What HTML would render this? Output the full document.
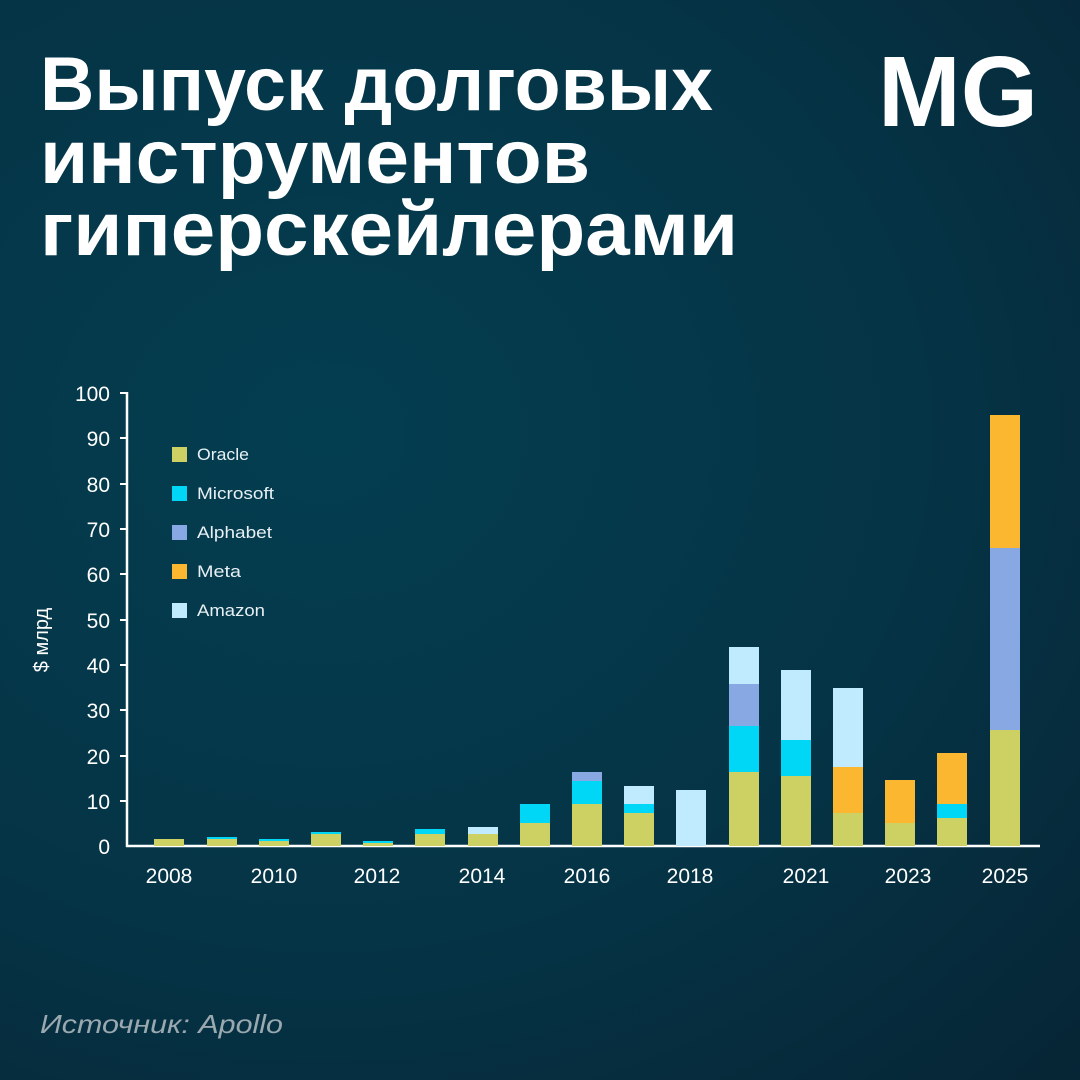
<!DOCTYPE html>
<html><head><meta charset="utf-8"><style>
html,body{margin:0;padding:0;}
body{width:1080px;height:1080px;overflow:hidden;background:radial-gradient(ellipse at 30% 40%,#033e50 0%,#053446 55%,#062535 100%);}
svg{display:block;}
</style></head><body>
<svg width="1080" height="1080" xmlns="http://www.w3.org/2000/svg" font-family="Liberation Sans, sans-serif">
<g fill="#fff" font-weight="bold" font-size="76">
<text x="40" y="110" textLength="673" lengthAdjust="spacingAndGlyphs">Выпуск долговых</text>
<text x="40" y="183" textLength="550" lengthAdjust="spacingAndGlyphs">инструментов</text>
<text x="40" y="255" textLength="698" lengthAdjust="spacingAndGlyphs">гиперскейлерами</text>
</g>
<text x="878" y="126" fill="#fff" font-size="100" font-weight="bold" textLength="160" lengthAdjust="spacingAndGlyphs">MG</text>
<g stroke="#fff" stroke-width="2.5">
<line x1="127" y1="392" x2="127" y2="847"/>
<line x1="126" y1="846" x2="1040" y2="846"/>
<g stroke-width="2">
<line x1="120" y1="393" x2="127" y2="393"/><line x1="120" y1="438" x2="127" y2="438"/><line x1="120" y1="484" x2="127" y2="484"/><line x1="120" y1="529" x2="127" y2="529"/><line x1="120" y1="574" x2="127" y2="574"/><line x1="120" y1="620" x2="127" y2="620"/><line x1="120" y1="665" x2="127" y2="665"/><line x1="120" y1="710" x2="127" y2="710"/><line x1="120" y1="756" x2="127" y2="756"/><line x1="120" y1="801" x2="127" y2="801"/>
</g></g>
<g fill="#fff" font-size="21" text-anchor="end">
<text x="110" y="401">100</text><text x="110" y="446">90</text><text x="110" y="492">80</text><text x="110" y="537">70</text><text x="110" y="582">60</text><text x="110" y="628">50</text><text x="110" y="673">40</text><text x="110" y="718">30</text><text x="110" y="764">20</text><text x="110" y="809">10</text><text x="110" y="854">0</text>
</g>
<text transform="translate(48,640) rotate(-90)" fill="#fff" font-size="20" text-anchor="middle">$ млрд</text>
<g fill="#fff" font-size="21" text-anchor="middle">
<text x="169" y="883">2008</text><text x="274" y="883">2010</text><text x="377" y="883">2012</text><text x="482" y="883">2014</text><text x="587" y="883">2016</text><text x="690" y="883">2018</text><text x="806" y="883">2021</text><text x="908" y="883">2023</text><text x="1005" y="883">2025</text>
</g>
<g>
<rect x="172" y="447" width="15" height="15" fill="#cdd164"/><rect x="172" y="486" width="15" height="15" fill="#00d6f5"/><rect x="172" y="525" width="15" height="15" fill="#88a8e4"/><rect x="172" y="564" width="15" height="15" fill="#fbb730"/><rect x="172" y="603" width="15" height="15" fill="#c0eafd"/>
<g fill="#e8f0f4" font-size="17"><text x="197" y="460" textLength="52" lengthAdjust="spacingAndGlyphs">Oracle</text><text x="197" y="499" textLength="77" lengthAdjust="spacingAndGlyphs">Microsoft</text><text x="197" y="538" textLength="75" lengthAdjust="spacingAndGlyphs">Alphabet</text><text x="197" y="577" textLength="44" lengthAdjust="spacingAndGlyphs">Meta</text><text x="197" y="616" textLength="68" lengthAdjust="spacingAndGlyphs">Amazon</text></g>
</g>
<g>
<rect x="154" y="839" width="30" height="7" fill="#cdd164"/>
<rect x="207" y="837" width="30" height="2" fill="#00d6f5"/><rect x="207" y="839" width="30" height="7" fill="#cdd164"/>
<rect x="259" y="839" width="30" height="2" fill="#00d6f5"/><rect x="259" y="841" width="30" height="5" fill="#cdd164"/>
<rect x="311" y="832" width="30" height="2" fill="#00d6f5"/><rect x="311" y="834" width="30" height="12" fill="#cdd164"/>
<rect x="363" y="841" width="30" height="2" fill="#00d6f5"/><rect x="363" y="843" width="30" height="3" fill="#cdd164"/>
<rect x="415" y="829" width="30" height="5" fill="#00d6f5"/><rect x="415" y="834" width="30" height="12" fill="#cdd164"/>
<rect x="468" y="827" width="30" height="7" fill="#c0eafd"/><rect x="468" y="834" width="30" height="12" fill="#cdd164"/>
<rect x="520" y="804" width="30" height="19" fill="#00d6f5"/><rect x="520" y="823" width="30" height="23" fill="#cdd164"/>
<rect x="572" y="772" width="30" height="9" fill="#88a8e4"/><rect x="572" y="781" width="30" height="23" fill="#00d6f5"/><rect x="572" y="804" width="30" height="42" fill="#cdd164"/>
<rect x="624" y="786" width="30" height="18" fill="#c0eafd"/><rect x="624" y="804" width="30" height="9" fill="#00d6f5"/><rect x="624" y="813" width="30" height="33" fill="#cdd164"/>
<rect x="676" y="790" width="30" height="56" fill="#c0eafd"/>
<rect x="729" y="647" width="30" height="37" fill="#c0eafd"/><rect x="729" y="684" width="30" height="42" fill="#88a8e4"/><rect x="729" y="726" width="30" height="46" fill="#00d6f5"/><rect x="729" y="772" width="30" height="74" fill="#cdd164"/>
<rect x="781" y="670" width="30" height="70" fill="#c0eafd"/><rect x="781" y="740" width="30" height="36" fill="#00d6f5"/><rect x="781" y="776" width="30" height="70" fill="#cdd164"/>
<rect x="833" y="688" width="30" height="79" fill="#c0eafd"/><rect x="833" y="767" width="30" height="46" fill="#fbb730"/><rect x="833" y="813" width="30" height="33" fill="#cdd164"/>
<rect x="885" y="780" width="30" height="43" fill="#fbb730"/><rect x="885" y="823" width="30" height="23" fill="#cdd164"/>
<rect x="937" y="753" width="30" height="51" fill="#fbb730"/><rect x="937" y="804" width="30" height="14" fill="#00d6f5"/><rect x="937" y="818" width="30" height="28" fill="#cdd164"/>
<rect x="990" y="415" width="30" height="133" fill="#fbb730"/><rect x="990" y="548" width="30" height="182" fill="#88a8e4"/><rect x="990" y="730" width="30" height="116" fill="#cdd164"/>
</g>
<text x="40" y="1033" fill="#9aa8b0" font-size="26" font-style="italic" textLength="243" lengthAdjust="spacingAndGlyphs">Источник: Apollo</text>
</svg>
</body></html>
